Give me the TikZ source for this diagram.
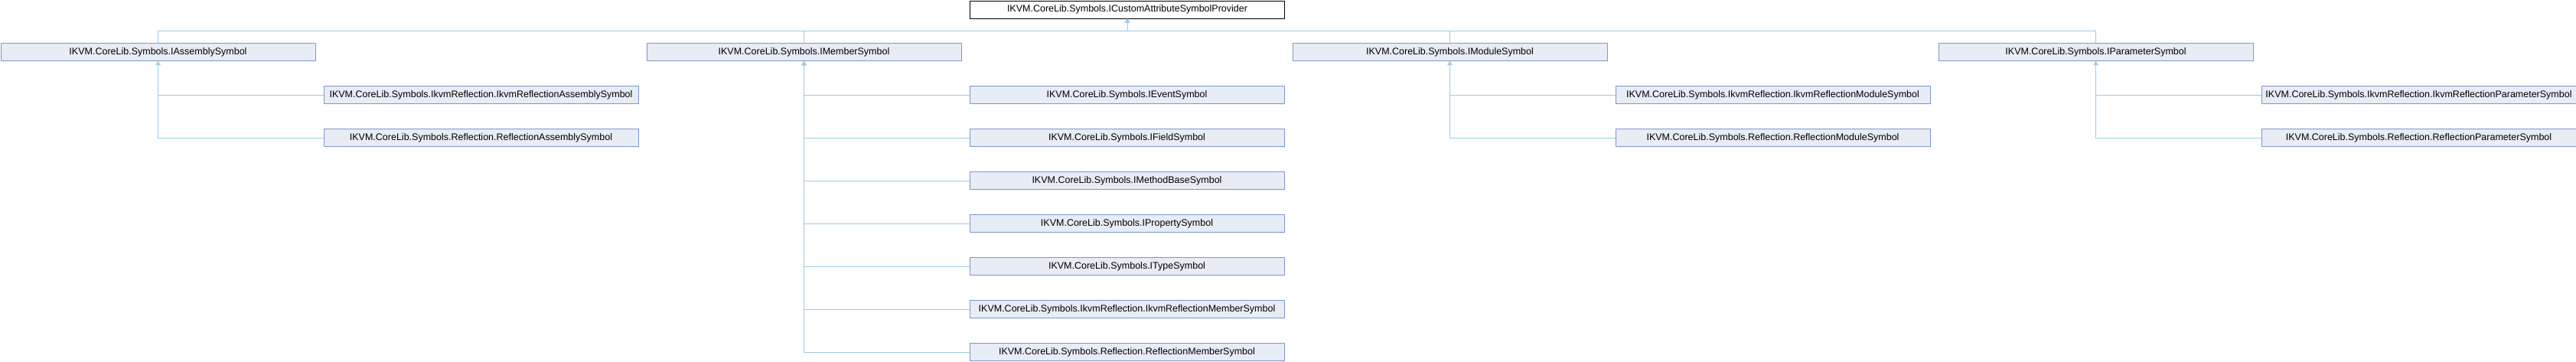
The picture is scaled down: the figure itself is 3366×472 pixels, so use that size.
\documentclass[tikz,border=0pt]{standalone}
\usepackage{fontspec}
\setmainfont{Liberation Sans}
\usetikzlibrary{arrows.meta,calc}
\definecolor{edgecol}{HTML}{9CCBEA}
\definecolor{boxfill}{HTML}{E7ECF5}
\definecolor{boxline}{HTML}{7F97CC}
\tikzset{
  cls/.style={draw=boxline, fill=boxfill, line width=1pt, minimum width=411pt, minimum height=23pt,
    inner sep=0pt, font=\fontsize{12.5}{14}\selectfont, anchor=north west},
  clsmore/.style={cls, append after command={
    \pgfextra{\fill[boxline] ($(\tikzlastnode.south east)+(-6pt,0)$) -- (\tikzlastnode.south east) -- ($(\tikzlastnode.south east)+(0,6pt)$) -- cycle;}}},
  topcls/.style={cls, draw=black, fill=white},
  edge/.style={draw=edgecol, line width=1pt, -{Triangle[width=6pt,length=5pt]}},
}
\begin{document}
\begin{tikzpicture}[x=1pt,y=-1pt]
\useasboundingbox (0,0) rectangle (3366,472);
\node[topcls] (top) at (1267,0.5) {IKVM.CoreLib.Symbols.ICustomAttributeSymbolProvider};
\coordinate (bus) at (1472.5,40);
% level 1
\node[cls] (asm) at (0.5,56) {IKVM.CoreLib.Symbols.IAssemblySymbol};
\node[cls] (mem) at (844.5,56) {IKVM.CoreLib.Symbols.IMemberSymbol};
\node[cls] (mod) at (1688.5,56) {IKVM.CoreLib.Symbols.IModuleSymbol};
\node[cls] (par) at (2532.5,56) {IKVM.CoreLib.Symbols.IParameterSymbol};
% assembly children
\node[cls] (asm1) at (422.5,112) {IKVM.CoreLib.Symbols.IkvmReflection.IkvmReflectionAssemblySymbol};
\node[cls] (asm2) at (422.5,168) {IKVM.CoreLib.Symbols.Reflection.ReflectionAssemblySymbol};
% member children
\node[clsmore] (mem1) at (1266.5,112) {IKVM.CoreLib.Symbols.IEventSymbol};
\node[clsmore] (mem2) at (1266.5,168) {IKVM.CoreLib.Symbols.IFieldSymbol};
\node[clsmore] (mem3) at (1266.5,224) {IKVM.CoreLib.Symbols.IMethodBaseSymbol};
\node[clsmore] (mem4) at (1266.5,280) {IKVM.CoreLib.Symbols.IPropertySymbol};
\node[clsmore] (mem5) at (1266.5,336) {IKVM.CoreLib.Symbols.ITypeSymbol};
\node[clsmore] (mem6) at (1266.5,392) {IKVM.CoreLib.Symbols.IkvmReflection.IkvmReflectionMemberSymbol};
\node[clsmore] (mem7) at (1266.5,448) {IKVM.CoreLib.Symbols.Reflection.ReflectionMemberSymbol};
% module children
\node[cls] (mod1) at (2110.5,112) {IKVM.CoreLib.Symbols.IkvmReflection.IkvmReflectionModuleSymbol};
\node[cls] (mod2) at (2110.5,168) {IKVM.CoreLib.Symbols.Reflection.ReflectionModuleSymbol};
% parameter children
\node[cls] (par1) at (2954.5,112) {IKVM.CoreLib.Symbols.IkvmReflection.IkvmReflectionParameterSymbol};
\node[cls] (par2) at (2954.5,168) {IKVM.CoreLib.Symbols.Reflection.ReflectionParameterSymbol};
% edges to top
\foreach \n in {asm,mem,mod,par}
  \draw[edge] (\n.north) -- (\n.north |- bus) -| (top.south);
% edges to level 1
\foreach \c/\p in {asm1/asm,asm2/asm,mem1/mem,mem2/mem,mem3/mem,mem4/mem,mem5/mem,mem6/mem,mem7/mem,mod1/mod,mod2/mod,par1/par,par2/par}
  \draw[edge] (\c.west) -| (\p.south);
\end{tikzpicture}
\end{document}
